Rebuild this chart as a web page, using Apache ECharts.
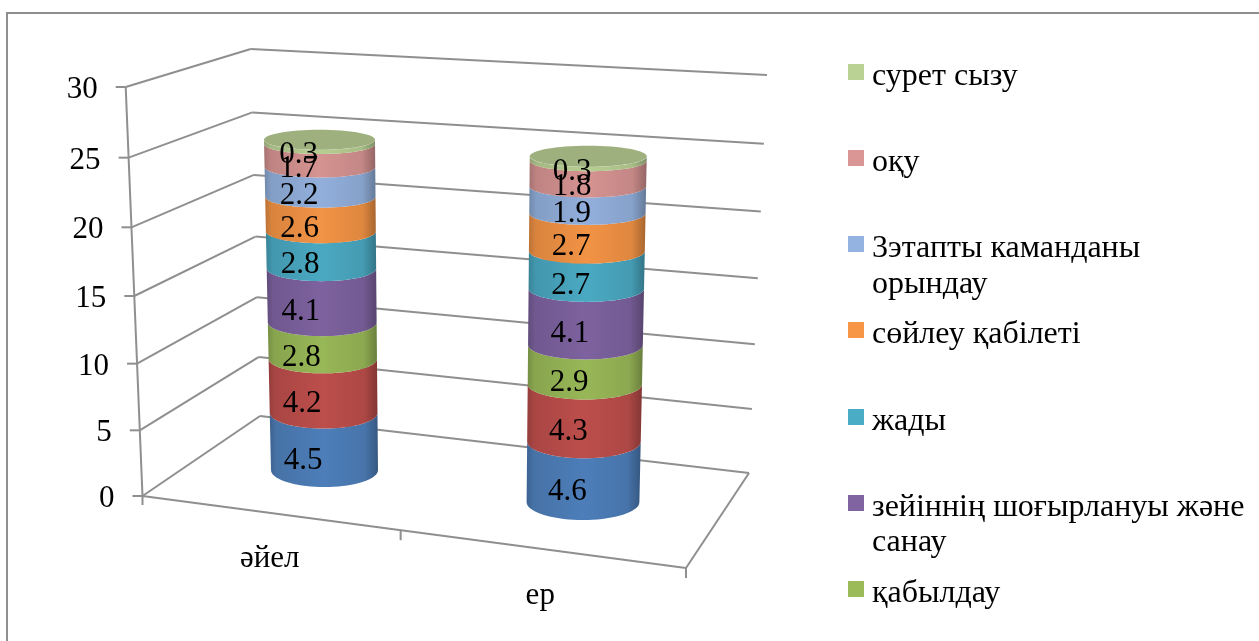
<!DOCTYPE html>
<html>
<head>
<meta charset="utf-8">
<style>html,body{margin:0;padding:0;background:#fff}#chart{width:1259px;height:641px}</style>
<script src="https://cdn.jsdelivr.net/npm/echarts@6/dist/echarts.min.js"></script>
</head>
<body>
<div id="chart"></div>
<script>
// Chart values
const categories = ['әйел', 'ер'];
const tickValues = [0, 5, 10, 15, 20, 25, 30];
const band1 = [4.5, 4.6];
const band2 = [4.2, 4.3];
const perception = [2.8, 2.9];
const attention = [4.1, 4.1];
const memory = [2.8, 2.7];
const speech = [2.6, 2.7];
const commands = [2.2, 1.9];
const reading = [1.7, 1.8];
const drawing = [0.3, 0.3];

const bandValues = [band1, band2, perception, attention, memory, speech, commands, reading, drawing];
const bandNames = ['1-қатар', '2-қатар', 'қабылдау', 'зейіннің шоғырлануы және санау', 'жады',
  'сөйлеу қабілеті', '3этапты каманданы орындау', 'оқу', 'сурет сызу'];
const bandColors = ['#4F81BD', '#C0504D', '#9BBB59', '#8064A2', '#4BACC6', '#F79646', '#95B3E0', '#D99694', '#BBD295'];

// Legend rows: a band name, the text of that row and whether it carries the marker
const legendRows = [
  ['сурет сызу', 'сурет сызу', 73, true],
  ['оқу', 'оқу', 159, true],
  ['3этапты каманданы орындау', '3этапты каманданы', 245, true],
  ['3этапты каманданы орындау', 'орындау', 281, false],
  ['сөйлеу қабілеті', 'сөйлеу қабілеті', 331, true],
  ['жады', 'жады', 418, true],
  ['зейіннің шоғырлануы және санау', 'зейіннің шоғырлануы және', 504, true],
  ['зейіннің шоғырлануы және санау', 'санау', 539, false],
  ['қабылдау', 'қабылдау', 590, true]
];
const LEGEND_LINE = 34;
const LEGEND_TEXT_DROP = 10;

const FONT = '"Liberation Serif", "Times New Roman", serif';
const LINE = '#8f8f8f';
const AXIS_MAX = 30;

// Perspective box: the front-left edge, back-left edge and back-right edge, bottom and top
const box = {
  frontLeft: [[142.5, 496], [125.7, 87]],
  backLeft: [[260, 416], [250.7, 49]],
  backRight: [[749, 473], [767, 75]],
  frontRight: [686, 568]
};

// Cylinder projection for each category, relative to the category's position on the axes
const cylinders = [
  { dxBase: 45.75, dxTop: 40.75, dyFront: -9, rxBase: 53.5, rxTop: 55.5, ryBase: 17, ryTop: 10, p: 0.946, q: 0.0014, labelDx: -21 },
  { dxBase: 32.75, dxTop: 38, dyFront: 24, rxBase: 56.4, rxTop: 58.5, ryBase: 18, ryTop: 10.5, p: 0.976, q: 0.00189, labelDx: -16 }
];
const categoryLabelOffset = [[-9, 63], [-10, 100]];

// The value axis is foreshortened: levels nearer the top sit further apart
function warp(frac) {
  const b = 0.00153 * AXIS_MAX;
  return frac * (1 + b * frac) / (1 + b);
}
function mix(a, b, t) { return a + (b - a) * t; }
function mixPt(a, b, t) { return [mix(a[0], b[0], t), mix(a[1], b[1], t)]; }

function shade(hex, k) {
  const n = parseInt(hex.slice(1), 16);
  const c = [n >> 16 & 255, n >> 8 & 255, n & 255].map(function (v) { return Math.round(v * k); });
  return 'rgb(' + c.join(',') + ')';
}
function sideFill(hex) {
  return {
    type: 'linear', x: 0, y: 0, x2: 1, y2: 0,
    colorStops: [
      { offset: 0, color: shade(hex, 0.76) },
      { offset: 0.06, color: shade(hex, 0.88) },
      { offset: 0.5, color: shade(hex, 0.98) },
      { offset: 0.88, color: shade(hex, 0.9) },
      { offset: 1, color: shade(hex, 0.68) }
    ]
  };
}

function lineEl(a, b) {
  return {
    type: 'line',
    shape: { x1: a[0], y1: a[1], x2: b[0], y2: b[1] },
    style: { stroke: LINE, lineWidth: 2 }
  };
}

function renderWalls(params, api) {
  const v = api.value(1);
  const y0 = api.coord([0, 0])[1];
  const h = warp((y0 - api.coord([0, v])[1]) / (y0 - api.coord([0, AXIS_MAX])[1]));
  const fl = mixPt(box.frontLeft[0], box.frontLeft[1], h);
  const bl = mixPt(box.backLeft[0], box.backLeft[1], h);
  const br = mixPt(box.backRight[0], box.backRight[1], h);
  const children = [
    lineEl(fl, bl), lineEl(bl, br),
    lineEl([fl[0] - 10, fl[1]], fl),
    {
      type: 'text',
      style: {
        text: String(v), x: fl[0] - 28, y: fl[1] + 3, align: 'right', verticalAlign: 'middle',
        fontFamily: FONT, fontSize: 31, fill: '#000'
      }
    }
  ];
  if (v === 0) {
    const fr = box.frontRight;
    const mid = mixPt(fl, fr, 0.475);
    children.push(
      lineEl(fl, fr), lineEl(fr, br),
      lineEl(fl, [fl[0], fl[1] + 9]),
      lineEl(mid, [mid[0], mid[1] + 10]),
      lineEl(fr, [fr[0], fr[1] + 10]),
      lineEl(box.frontLeft[0], box.frontLeft[1])
    );
  }
  return { type: 'group', children: children };
}

function cylinderLevel(api, i, v) {
  const c = cylinders[i];
  const total = bandValues.reduce(function (s, arr) { return s + arr[i]; }, 0);
  const base = api.coord([i, 0]);
  const len = base[1] - api.coord([i, v])[1];
  const t = v / total;
  const ry = mix(c.ryBase, c.ryTop, t);
  const front = base[1] + c.dyFront - len * (c.p + c.q * v);
  return {
    x: base[0] + mix(c.dxBase, c.dxTop, t),
    y: front - ry,
    front: front,
    rx: mix(c.rxBase, c.rxTop, t),
    ry: ry
  };
}

function frontArc(l) {
  // Front half of a level's ellipse, running left to right
  const pts = [];
  for (let k = 0; k <= 36; k++) {
    const a = Math.PI - Math.PI * k / 36;
    pts.push([l.x + l.rx * Math.cos(a), l.y + l.ry * Math.sin(a)]);
  }
  return pts;
}

function makeBandRenderer(b) {
  return function (params, api) {
    const i = api.value(0);
    const start = api.value(1);
    const end = api.value(2);
    const low = cylinderLevel(api, i, start);
    const high = cylinderLevel(api, i, end);
    const color = bandColors[b];
    const children = [{
      type: 'polygon',
      z2: b * 2 + 1,
      shape: { points: frontArc(high).concat(frontArc(low).reverse()) },
      style: { fill: sideFill(color) }
    }];
    if (b === bandValues.length - 1) {
      children.push({
        type: 'ellipse',
        z2: b * 2 + 2,
        shape: { cx: high.x, cy: high.y, rx: high.rx, ry: high.ry },
        style: { fill: shade(color, 0.84) }
      });
    }
    children.push({
      type: 'text',
      z2: 100,
      style: {
        text: String(bandValues[b][i]),
        x: (low.x + high.x) / 2 + cylinders[i].labelDx,
        y: (low.front + high.front) / 2 + 3,
        align: 'center', verticalAlign: 'middle',
        fontFamily: FONT, fontSize: 31, fill: '#000'
      }
    });
    return { type: 'group', children: children };
  };
}

function renderCategoryLabel(params, api) {
  const i = api.value(0);
  const p = api.coord([i, 0]);
  return {
    type: 'text',
    style: {
      text: categories[i],
      x: p[0] + categoryLabelOffset[i][0], y: p[1] + categoryLabelOffset[i][1],
      align: 'center', verticalAlign: 'middle',
      fontFamily: FONT, fontSize: 31, fill: '#000'
    }
  };
}

// Stack each band on top of those below it
const running = categories.map(function () { return 0; });
const bandSeries = bandValues.map(function (vals, b) {
  const data = vals.map(function (v, i) {
    const item = [i, running[i], running[i] + v];
    running[i] += v;
    return item;
  });
  return {
    type: 'custom',
    name: bandNames[b],
    coordinateSystem: 'cartesian2d',
    clip: false,
    z: 3,
    itemStyle: { color: bandColors[b] },
    encode: { x: 0, y: [1, 2] },
    renderItem: makeBandRenderer(b),
    data: data
  };
});

// The rich style lowers the text a little below the centre of its marker
const legends = legendRows.map(function (row) {
  return {
    data: [{ name: row[0], icon: row[3] ? 'rect' : 'none' }],
    formatter: function () { return '{row|' + row[1] + '}'; },
    left: 848,
    top: row[2] - (LEGEND_LINE + LEGEND_TEXT_DROP) / 2,
    orient: 'vertical',
    padding: 0,
    itemWidth: 16,
    itemHeight: 16,
    itemGap: 0,
    selectedMode: false,
    textStyle: {
      fontFamily: FONT, fontSize: 32, color: '#000',
      rich: {
        row: {
          fontFamily: FONT, fontSize: 32, lineHeight: LEGEND_LINE, color: '#000',
          padding: [LEGEND_TEXT_DROP, 0, 0, 3]
        }
      }
    }
  };
});

const chart = echarts.init(document.getElementById('chart'), null, { renderer: 'canvas' });
chart.setOption({
  animation: false,
  backgroundColor: '#fff',
  tooltip: { show: false },
  grid: { left: 143, right: 573, top: 87, bottom: 145 },
  xAxis: { type: 'category', data: categories, show: false },
  yAxis: { type: 'value', min: 0, max: AXIS_MAX, interval: 5, show: false },
  legend: legends,
  graphic: [{
    type: 'rect', silent: true,
    shape: { x: 7, y: 13, width: 1400, height: 800 },
    style: { fill: 'none', stroke: LINE, lineWidth: 2 }
  }],
  series: [
    {
      type: 'custom', name: 'walls', coordinateSystem: 'cartesian2d', clip: false, z: 1,
      silent: true, encode: { x: 0, y: 1 }, renderItem: renderWalls,
      data: tickValues.map(function (v) { return [0, v]; })
    },
    {
      type: 'custom', name: 'categoryLabels', coordinateSystem: 'cartesian2d', clip: false, z: 1,
      silent: true, encode: { x: 0, y: 1 }, renderItem: renderCategoryLabel,
      data: categories.map(function (c, i) { return [i, 0]; })
    }
  ].concat(bandSeries)
});
</script>
</body>
</html>
